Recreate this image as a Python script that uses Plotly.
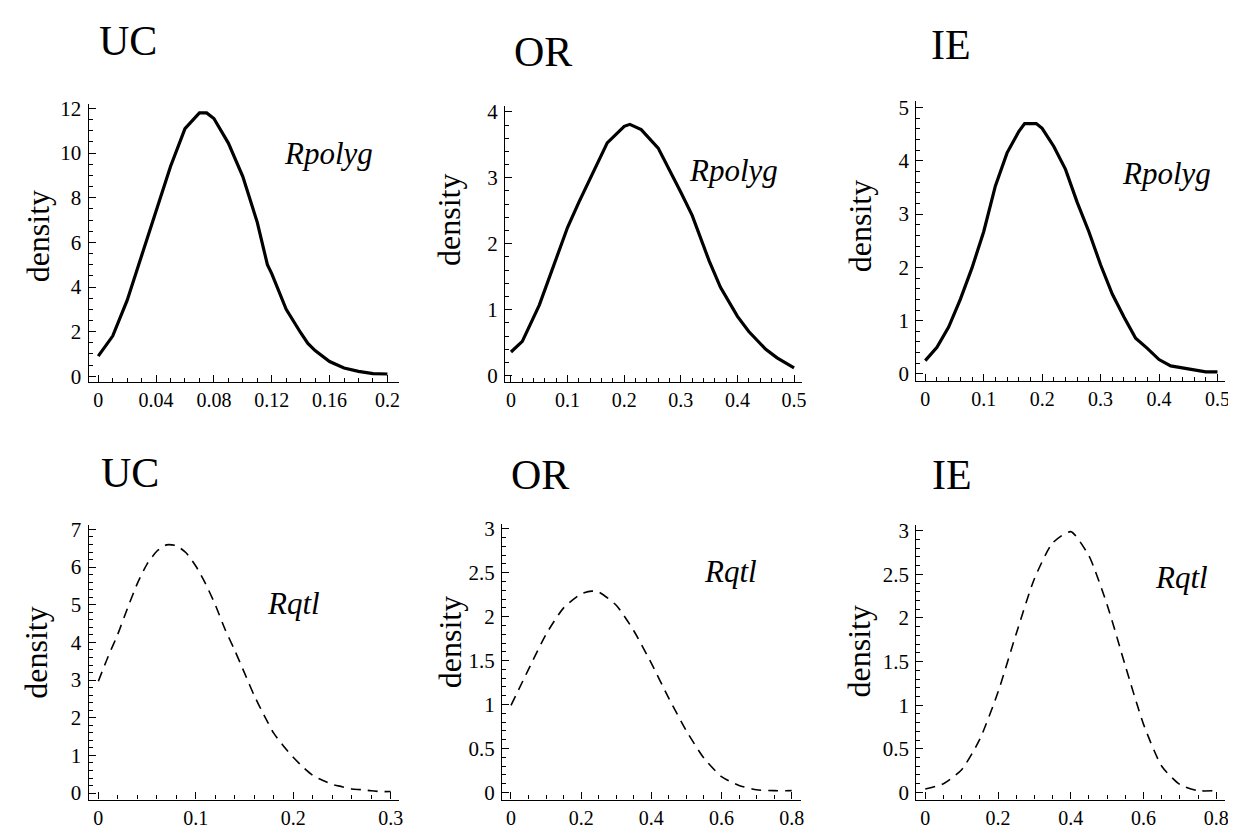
import plotly.graph_objects as go

# ---------------- data ----------------
panel_titles = ["UC", "OR", "IE", "UC", "OR", "IE"]
curve_labels = ["Rpolyg", "Rpolyg", "Rpolyg", "Rqtl", "Rqtl", "Rqtl"]

uc_polyg_x = [0, 0.01, 0.02, 0.03, 0.04, 0.05, 0.06, 0.07, 0.075, 0.08, 0.09, 0.10,
              0.11, 0.117, 0.12, 0.13, 0.14, 0.145, 0.15, 0.16, 0.17, 0.18, 0.19, 0.20]
uc_polyg_y = [0.9, 1.8, 3.4, 5.4, 7.4, 9.4, 11.1, 11.8, 11.8, 11.55, 10.45, 8.95,
              6.9, 5.0, 4.6, 3.0, 1.95, 1.47, 1.15, 0.66, 0.37, 0.22, 0.12, 0.1]

or_polyg_x = [0, 0.02, 0.05, 0.08, 0.1, 0.12, 0.14, 0.17, 0.2, 0.21, 0.23, 0.26,
              0.3, 0.32, 0.35, 0.37, 0.4, 0.42, 0.45, 0.47, 0.5]
or_polyg_y = [0.36, 0.52, 1.07, 1.76, 2.25, 2.63, 3.0, 3.53, 3.78, 3.81, 3.73, 3.45,
              2.78, 2.43, 1.74, 1.34, 0.9, 0.67, 0.4, 0.27, 0.12]

ie_polyg_x = [0, 0.02, 0.04, 0.06, 0.08, 0.1, 0.12, 0.14, 0.16, 0.17, 0.19, 0.2,
              0.22, 0.24, 0.26, 0.28, 0.30, 0.32, 0.34, 0.36, 0.38, 0.40, 0.42,
              0.44, 0.46, 0.48, 0.50]
ie_polyg_y = [0.25, 0.5, 0.88, 1.4, 1.99, 2.67, 3.53, 4.15, 4.55, 4.7, 4.7, 4.61,
              4.27, 3.84, 3.22, 2.67, 2.05, 1.5, 1.07, 0.67, 0.48, 0.27, 0.15,
              0.11, 0.08, 0.04, 0.04]

uc_qtl_x = [0, 0.01, 0.02, 0.03, 0.04, 0.05, 0.06, 0.07, 0.08, 0.09, 0.10, 0.11,
            0.12, 0.13, 0.14, 0.15, 0.16, 0.17, 0.18, 0.19, 0.20, 0.21, 0.22,
            0.23, 0.24, 0.25, 0.26, 0.27, 0.28, 0.29, 0.30]
uc_qtl_y = [2.97, 3.62, 4.22, 4.91, 5.56, 6.08, 6.42, 6.59, 6.57, 6.38, 6.03, 5.56,
            5.0, 4.35, 3.79, 3.19, 2.59, 2.07, 1.59, 1.25, 0.95, 0.69, 0.47,
            0.34, 0.23, 0.17, 0.11, 0.09, 0.06, 0.04, 0.04]

or_qtl_x = [0, 0.05, 0.1, 0.15, 0.2, 0.23, 0.25, 0.3, 0.35, 0.4, 0.45, 0.5, 0.55,
            0.6, 0.65, 0.7, 0.75, 0.8]
or_qtl_y = [0.99, 1.4, 1.8, 2.1, 2.26, 2.29, 2.28, 2.13, 1.84, 1.47, 1.07, 0.7, 0.39,
            0.18, 0.08, 0.03, 0.02, 0.02]

ie_qtl_x = [0, 0.05, 0.1, 0.15, 0.2, 0.25, 0.3, 0.35, 0.4, 0.45, 0.5, 0.55, 0.6,
            0.65, 0.7, 0.75, 0.8]
ie_qtl_y = [0.04, 0.1, 0.26, 0.61, 1.15, 1.82, 2.45, 2.86, 2.99, 2.71, 2.15, 1.45,
            0.78, 0.3, 0.09, 0.02, 0.02]

# tick values / labels
x_ticks = [
    ([0, 0.04, 0.08, 0.12, 0.16, 0.2], ["0", "0.04", "0.08", "0.12", "0.16", "0.2"]),
    ([0, 0.1, 0.2, 0.3, 0.4, 0.5], ["0", "0.1", "0.2", "0.3", "0.4", "0.5"]),
    ([0, 0.1, 0.2, 0.3, 0.4, 0.5], ["0", "0.1", "0.2", "0.3", "0.4", "0.5"]),
    ([0, 0.1, 0.2, 0.3], ["0", "0.1", "0.2", "0.3"]),
    ([0, 0.2, 0.4, 0.6, 0.8], ["0", "0.2", "0.4", "0.6", "0.8"]),
    ([0, 0.2, 0.4, 0.6, 0.8], ["0", "0.2", "0.4", "0.6", "0.8"]),
]
y_ticks = [
    ([0, 2, 4, 6, 8, 10, 12], ["0", "2", "4", "6", "8", "10", "12"]),
    ([0, 1, 2, 3, 4], ["0", "1", "2", "3", "4"]),
    ([0, 1, 2, 3, 4, 5], ["0", "1", "2", "3", "4", "5"]),
    ([0, 1, 2, 3, 4, 5, 6, 7], ["0", "1", "2", "3", "4", "5", "6", "7"]),
    ([0, 0.5, 1, 1.5, 2, 2.5, 3], ["0", "0.5", "1", "1.5", "2", "2.5", "3"]),
    ([0, 0.5, 1, 1.5, 2, 2.5, 3], ["0", "0.5", "1", "1.5", "2", "2.5", "3"]),
]
x_minor = [0.01, 0.02, 0.02, 0.02, 0.05, 0.05]
y_minor = [0.5, 0.2, 0.2, 0.2, 0.1, 0.1]

series = [
    (uc_polyg_x, uc_polyg_y), (or_polyg_x, or_polyg_y), (ie_polyg_x, ie_polyg_y),
    (uc_qtl_x, uc_qtl_y), (or_qtl_x, or_qtl_y), (ie_qtl_x, ie_qtl_y),
]

# ---------------- layout (pixels) ----------------
W, H = 1236, 832
# plot box: left, right, top, bottom (px)
boxes = [
    (81, 393, 90, 373), (499, 797, 92, 373), (912, 1222, 87, 372),
    (81, 393, 518, 797), (496, 796, 517, 797), (912, 1222, 518, 797),
]
x_ranges = [(-0.0066, 0.2083), (-0.0106, 0.5136), (-0.0153, 0.513),
            (-0.0099, 0.309), (-0.0256, 0.826), (-0.0246, 0.824)]
y_ranges = [(-0.265, 12.22), (-0.098, 4.095), (-0.136, 5.13),
            (-0.172, 7.12), (-0.081, 3.055), (-0.082, 3.067)]
title_pos = [(89, 26), (506, 38), (925, 30), (91, 465), (503, 467), (926, 467)]
label_pos = [(322, 141), (728, 158), (1163, 161), (287, 598), (725, 565), (1178, 571)]
dens_pos = [(31, 225), (443, 208), (855, 215), (28, 648), (444, 637), (854, 647)]

FONT = "Liberation Serif, Times New Roman, serif"

fig = go.Figure()
layout = dict(
    width=W, height=H, margin=dict(l=0, r=0, t=0, b=0),
    paper_bgcolor="white", plot_bgcolor="white", showlegend=False,
    font=dict(family=FONT, color="black"),
)
annotations = []

def px(xp):
    return xp / W

def py(yp):
    return 1 - yp / H

for i in range(6):
    n = "" if i == 0 else str(i + 1)
    l, r, t, b = boxes[i]
    xs, ys = series[i]
    dashed = i >= 3
    fig.add_trace(go.Scatter(
        x=xs, y=ys, mode="lines",
        line=dict(color="black", width=1.6 if dashed else 3.2,
                  dash="10px,7px" if dashed else "solid",
                  shape="spline" if dashed else "linear", smoothing=0.6),
        xaxis="x" + n, yaxis="y" + n, hoverinfo="skip",
    ))
    common = dict(showgrid=False, zeroline=False, showline=True, linecolor="black",
                  linewidth=1.2, ticks="inside", ticklen=7, tickwidth=1,
                  tickcolor="black", tickfont=dict(family=FONT, size=21, color="black"),
                  mirror=False, fixedrange=True)
    layout["xaxis" + n] = dict(
        common, domain=[px(l), px(r)], range=list(x_ranges[i]), anchor="y" + n,
        tickvals=x_ticks[i][0], ticktext=x_ticks[i][1], ticklabelstandoff=0,
        tickfont=dict(family=FONT, size=20, color="black"),
        minor=dict(ticks="inside", ticklen=4, tickcolor="black", dtick=x_minor[i],
                   tick0=0, showgrid=False),
    )
    layout["yaxis" + n] = dict(
        common, domain=[py(b), py(t)], range=list(y_ranges[i]), anchor="x" + n,
        tickvals=y_ticks[i][0], ticktext=y_ticks[i][1], ticklabelstandoff=2,
        minor=dict(ticks="inside", ticklen=4, tickcolor="black", dtick=y_minor[i],
                   tick0=0, showgrid=False),
    )
    tx, ty = title_pos[i]
    annotations.append(dict(text=panel_titles[i], x=px(tx), y=py(ty), xref="paper",
                            yref="paper", showarrow=False, xanchor="left",
                            yanchor="middle",
                            font=dict(family=FONT, size=42, color="black")))
    lx, ly = label_pos[i]
    annotations.append(dict(text="<i>" + curve_labels[i] + "</i>", x=px(lx), y=py(ly),
                            xref="paper", yref="paper", showarrow=False,
                            xanchor="center", yanchor="middle",
                            font=dict(family=FONT, size=31, color="black")))
    dx, dy = dens_pos[i]
    annotations.append(dict(text="density", x=px(dx), y=py(dy), xref="paper",
                            yref="paper", showarrow=False, textangle=-90,
                            xanchor="center", yanchor="middle",
                            font=dict(family=FONT, size=32, color="black")))

layout["annotations"] = annotations
fig.update_layout(**layout)
fig.write_html("out.html")
